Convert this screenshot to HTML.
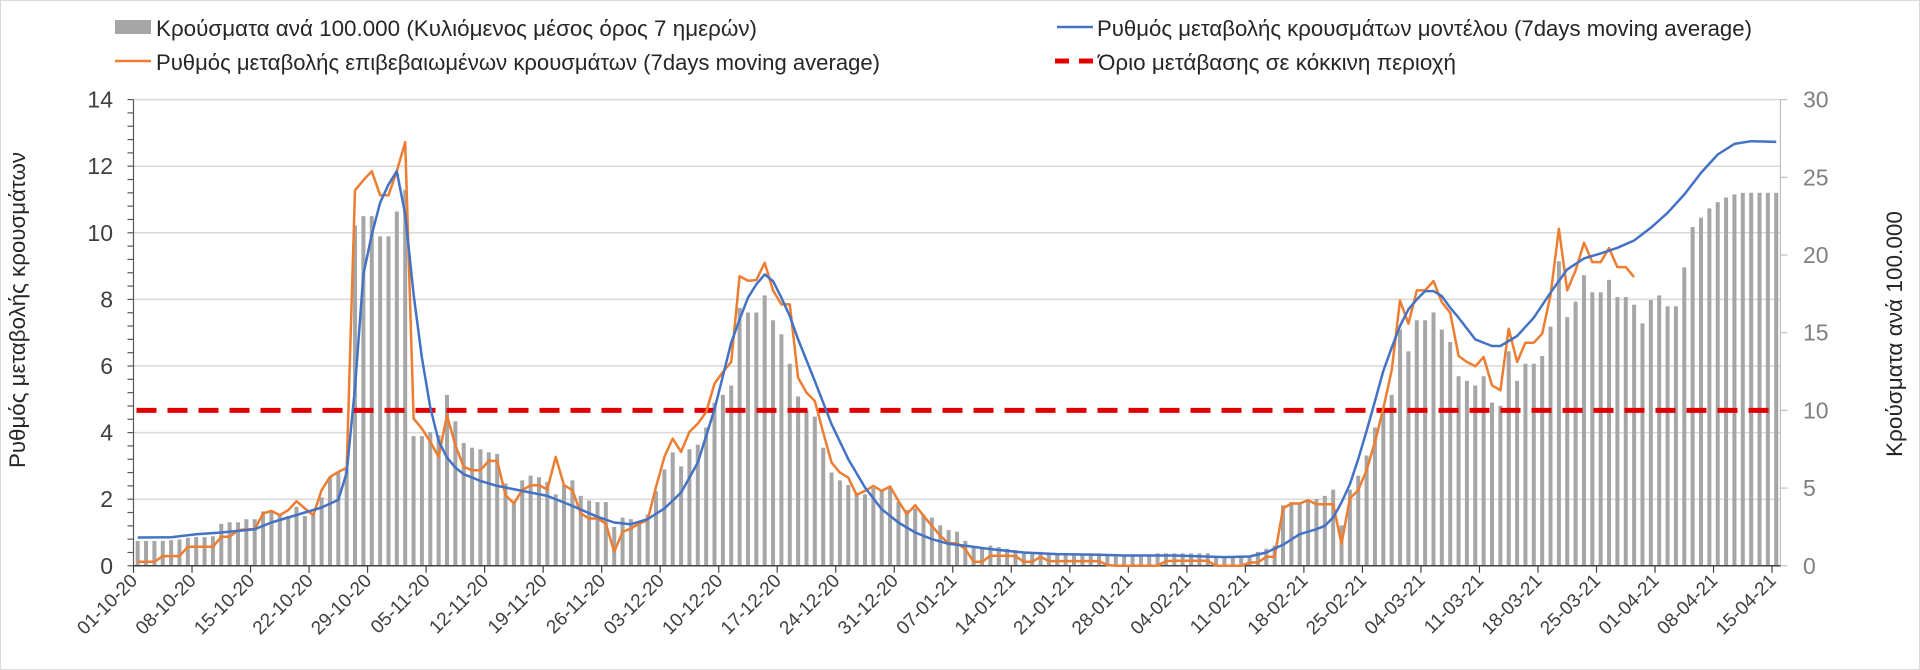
<!DOCTYPE html>
<html><head><meta charset="utf-8">
<style>
html,body{margin:0;padding:0;background:#fff;}
svg{display:block;font-family:"Liberation Sans","DejaVu Sans",sans-serif;}
</style></head>
<body>
<svg id="chart" width="1920" height="670" viewBox="0 0 1920 670" xmlns="http://www.w3.org/2000/svg">
<rect x="0.5" y="0.5" width="1919" height="669" fill="#fff" stroke="#d9d9d9"/>
<g id="grid"></g>
<g id="bars"></g>
<g id="axes"></g>
<g id="lines"></g>
<g id="legend">
  <g>
    <rect x="115" y="20" width="36" height="14" fill="#a6a6a6"/>
    <text x="156" y="36" font-size="22" fill="#262626" textLength="601" lengthAdjust="spacingAndGlyphs">Κρούσματα ανά 100.000 (Κυλιόμενος μέσος όρος 7 ημερών)</text>
  </g>
  <g>
    <line x1="115" y1="61" x2="151" y2="61" stroke="#ed7d31" stroke-width="2.5"/>
    <text x="156" y="70" font-size="22" fill="#262626" textLength="724" lengthAdjust="spacingAndGlyphs">Ρυθμός μεταβολής επιβεβαιωμένων κρουσμάτων (7days moving average)</text>
  </g>
  <g>
    <line x1="1057" y1="27" x2="1093" y2="27" stroke="#4472c4" stroke-width="2.5"/>
    <text x="1097" y="36" font-size="22" fill="#262626" textLength="655" lengthAdjust="spacingAndGlyphs">Ρυθμός μεταβολής κρουσμάτων μοντέλου (7days moving average)</text>
  </g>
  <g>
    <line x1="1055" y1="61" x2="1093" y2="61" stroke="#e00000" stroke-width="5" stroke-dasharray="14 10"/>
    <text x="1098" y="70" font-size="22" fill="#262626" textLength="358" lengthAdjust="spacingAndGlyphs">Όριο μετάβασης σε κόκκινη περιοχή</text>
  </g>
</g>
<text transform="translate(25,310) rotate(-90)" text-anchor="middle" font-size="22" fill="#262626" textLength="316" lengthAdjust="spacingAndGlyphs">Ρυθμός μεταβολής κρουσμάτων</text>
<text transform="translate(1902,334) rotate(-90)" text-anchor="middle" font-size="22" fill="#262626" textLength="246" lengthAdjust="spacingAndGlyphs">Κρούσματα ανά 100.000</text>
</svg>
<script>
const barValues = [1.6,1.6,1.6,1.6,1.65,1.7,
1.8,1.85,1.85,1.9,
2.7,2.8,2.8,3.0,3.0,
3.5,3.5,3.3,3.2,3.8,3.2,3.4,
4.4,5.7,6.0,6.2,
21.9,22.5,22.5,21.2,21.2,22.8,24.2,
8.35,8.35,8.6,8.4,11.0,9.3,7.9,
7.6,7.5,7.3,7.2,5.3,4.2,5.5,
5.8,5.7,5.4,4.6,5.2,5.5,4.5,
4.2,4.1,4.1,2.5,3.1,3.0,2.7,
3.3,4.8,6.2,7.3,6.4,7.5,7.8,
8.9,10.5,11.0,11.6,16.6,16.3,16.3,
17.4,15.8,14.9,13.0,10.9,10.0,9.6,
7.6,6.0,5.5,5.2,4.7,4.6,5.0,
4.9,5.1,4.1,3.6,3.7,3.3,3.1,
2.6,2.3,2.2,1.6,1.2,1.1,1.3,
1.2,1.1,1.0,0.8,0.8,0.9,0.8,
0.8,0.8,0.8,0.8,0.8,0.8,0.7,0.7,
0.7,0.6,0.6,0.6,
0.8,0.8,0.8,0.8,0.8,0.8,0.8,
0.5,0.5,0.5,0.6,0.6,
0.9,1.1,1.3,
3.9,4.1,4.0,4.2,4.3,4.5,4.9,
2.6,4.9,5.8,7.1,8.9,10.1,11.0,
15.2,13.8,15.8,15.8,16.3,15.2,14.4,12.2,
11.9,11.6,12.2,10.5,10.3,13.8,11.9,
13.0,13.0,13.5,15.4,19.6,16.0,17.0,
18.7,17.6,17.6,18.4,17.3,17.3,16.8,
15.6,17.1,17.4,16.7,16.7,19.2,21.8,
22.4,23.0,23.4,23.7,23.9,24.0,24.0,24.0,24.0,24.0];

const orangeValues = [.12,.12,.12,
.29,.29,.29,
.57,.57,.57,.57,
.87,.87,
1.07,1.1,1.1,
1.57,1.65,1.52,1.67,1.94,1.72,1.52,
2.27,2.67,2.82,2.94,
11.28,11.58,11.85,11.13,11.13,11.85,12.72,
4.42,4.12,3.72,3.27,4.52,3.62,2.97,
2.87,2.87,3.15,3.15,2.12,1.87,2.27,
2.42,2.42,2.29,3.27,2.42,2.27,1.57,
1.42,1.42,1.27,0.42,1.02,1.12,1.27,
1.37,2.37,3.27,3.82,3.42,4.02,4.27,
4.62,5.47,5.82,6.12,8.7,8.56,8.58,
9.1,8.27,7.85,7.85,5.65,5.2,4.95,
4.0,3.1,2.8,2.65,2.13,2.25,2.4,
2.25,2.38,1.95,1.55,1.82,1.5,1.2,
0.9,0.68,0.68,0.5,0.12,0.12,0.3,
0.3,0.3,0.29,0.12,0.12,0.27,0.14,
0.14,0.14,0.14,0.14,0.14,0.14,0.02,
0,0,0,0,0,0,
0.14,0.15,0.15,0.15,0.15,0.15,
0,0,0,0,
0.1,0.1,0.27,0.27,
1.72,1.87,1.87,1.97,1.85,1.85,1.85,
0.66,2.02,2.27,2.87,3.72,4.72,5.87,
7.97,7.27,8.27,8.27,8.55,7.92,7.6,
6.3,6.12,5.99,6.27,5.42,5.27,7.12,
6.12,6.7,6.7,6.97,8.12,10.12,8.27,
8.87,9.7,9.12,9.12,9.54,8.97,8.97,8.67];

const blueDays = [0,4,7,10,14,16,18,20,22,24,25,26,27,28,29,30,31,32,33,34,35,36,37,38,39,41,43,46,49,52,55,57,59,61,63,65,67,69,70,71,72,73,74,75,76,77,78,79,81,83,85,87,89,91,93,95,97,99,102,106,110,115,118,124,130,133,135,137,139,141,142,143,144,145,146,147,148,149,150,151,152,153,154,155,156,157,158,160,162,163,165,167,169,171,173,175,177,179,181,183,185,187,189,191,193,195,196];
const blueValues = [.85,.86,.95,1.0,1.1,1.3,1.45,1.6,1.75,1.98,2.8,5.35,8.75,9.95,10.9,11.45,11.85,10.55,8.15,6.25,4.75,3.75,3.25,2.95,2.75,2.55,2.4,2.25,2.1,1.8,1.47,1.3,1.25,1.4,1.72,2.2,3.1,4.7,5.7,6.7,7.4,8.05,8.45,8.75,8.55,8.05,7.5,6.8,5.55,4.25,3.2,2.35,1.7,1.3,1.0,.8,.66,.6,.5,.4,.35,.33,.31,.31,.26,.28,.4,.63,.95,1.1,1.2,1.45,1.9,2.45,3.2,4.05,4.95,5.85,6.55,7.2,7.7,8.0,8.25,8.25,8.1,7.75,7.45,6.8,6.6,6.6,6.9,7.45,8.2,8.9,9.23,9.38,9.55,9.77,10.15,10.6,11.15,11.8,12.35,12.67,12.75,12.74,12.73];

const thresholdValue = 10; // right axis units
const leftTicks = [0,2,4,6,8,10,12,14];
const rightTicks = [0,5,10,15,20,25,30];
const dateLabels = ["01-10-20","08-10-20","15-10-20","22-10-20","29-10-20","05-11-20","12-11-20","19-11-20","26-11-20","03-12-20","10-12-20","17-12-20","24-12-20","31-12-20","07-01-21","14-01-21","21-01-21","28-01-21","04-02-21","11-02-21","18-02-21","25-02-21","04-03-21","11-03-21","18-03-21","25-03-21","01-04-21","08-04-21","15-04-21"];

const NS = "http://www.w3.org/2000/svg";
const X0 = 133.5, DW = 8.36, NDAYS = 197;
const YB = 565.8, YT = 99.6;
function xEdge(d){ return X0 + d*DW; }
function xCenter(d){ return X0 + (d+0.5)*DW; }
function yL(v){ return YB - v/14*(YB-YT); }
function yR(v){ return YB - v/30*(YB-YT); }
function mk(tag, attrs, parent){
  const el = document.createElementNS(NS, tag);
  for (const k in attrs) el.setAttribute(k, attrs[k]);
  parent.appendChild(el);
  return el;
}
const grid = document.getElementById('grid');
const bars = document.getElementById('bars');
const axes = document.getElementById('axes');
const lines = document.getElementById('lines');
const XR = xEdge(NDAYS);

leftTicks.forEach(v => {
  if (v > 0) {
    const g = mk('line', {x1:X0, x2:XR, y1:yL(v), y2:yL(v), stroke:'#d9d9d9', 'stroke-width':1.5}, grid);
    
    
  }
  const t = mk('text', {x:113, y:yL(v)+8, 'text-anchor':'end', 'font-size':23, fill:'#404040'}, axes);
  t.textContent = v;
  
  
});
// minor ticks left
for (let v = 0; v <= 14.001; v += 0.4) {
  mk('line', {x1:X0-6, x2:X0, y1:yL(v), y2:yL(v), stroke:'#595959', 'stroke-width':1.2}, axes);
}
rightTicks.forEach(v => {
  mk('line', {x1:XR, x2:XR+7, y1:yR(v), y2:yR(v), stroke:'#bfbfbf', 'stroke-width':1.2}, axes);
  const t = mk('text', {x:1803, y:yR(v)+8, 'font-size':23, fill:'#808080'}, axes);
  t.textContent = v;
  
  
});
const la = mk('line', {x1:X0, x2:X0, y1:YT, y2:YB, stroke:'#595959', 'stroke-width':1.2}, axes);


const ra = mk('line', {x1:XR, x2:XR, y1:YT, y2:YB, stroke:'#bfbfbf', 'stroke-width':1.2}, axes);



barValues.forEach((v, d) => {
  const b = mk('rect', {x:xCenter(d)-2, y:yR(v), width:4, height:YB-yR(v), fill:'#a6a6a6'}, bars);
  
  
});

const xa = mk('line', {x1:X0, x2:XR, y1:YB, y2:YB, stroke:'#404040', 'stroke-width':1.5}, axes);


dateLabels.forEach((lab, i) => {
  const x = xEdge(i*7);
  mk('line', {x1:x, x2:x, y1:YB, y2:YB+7, stroke:'#404040', 'stroke-width':1.2}, axes);
  const t = mk('text', {transform:'translate(' + (x+5) + ',' + (YB+16) + ') rotate(-45)', 'text-anchor':'end', 'font-size':19, fill:'#404040'}, axes);
  t.textContent = lab;
  
  
});

const th = mk('line', {x1:X0+3, x2:XR-8, y1:yR(thresholdValue), y2:yR(thresholdValue), stroke:'#e00000', 'stroke-width':5, 'stroke-dasharray':'20 11'}, lines);



const op = mk('polyline', {points: orangeValues.map((v,d) => xCenter(d).toFixed(1)+','+yL(v).toFixed(1)).join(' '), fill:'none', stroke:'#ed7d31', 'stroke-width':2.5, 'stroke-linejoin':'round'}, lines);



const bp = mk('polyline', {points: blueDays.map((d,i) => xCenter(d).toFixed(1)+','+yL(blueValues[i]).toFixed(1)).join(' '), fill:'none', stroke:'#4472c4', 'stroke-width':2.5, 'stroke-linejoin':'round'}, lines);


</script>
</body></html>
